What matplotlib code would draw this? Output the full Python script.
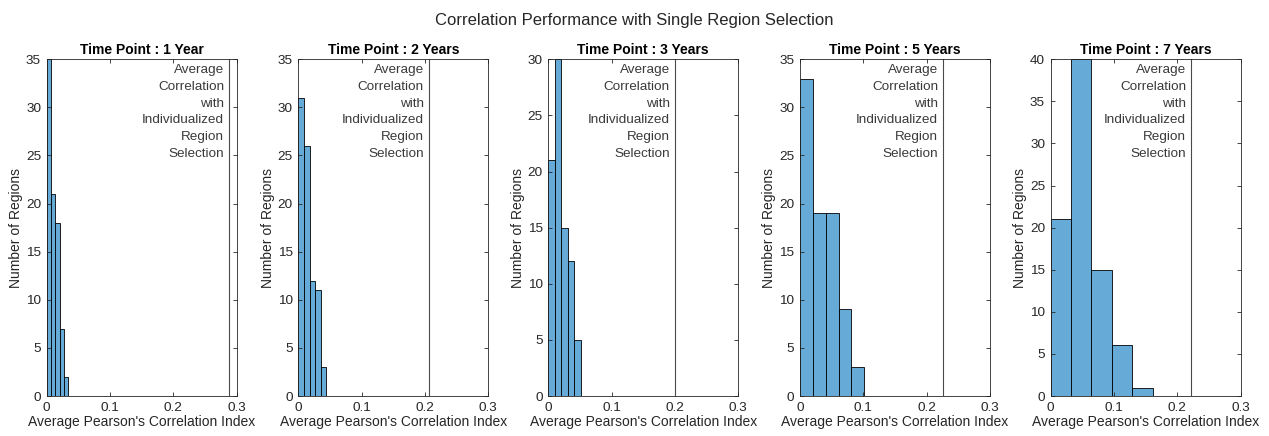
import numpy as np
import matplotlib.pyplot as plt

plt.rcParams['font.family'] = ['Liberation Sans', 'DejaVu Sans']

# histogram counts per time point (5 bins each, starting at 0)
time_points = ['1 Year', '2 Years', '3 Years', '5 Years', '7 Years']
counts_1y = [35, 21, 18, 7, 2]
counts_2y = [31, 26, 12, 11, 3]
counts_3y = [21, 30, 15, 12, 5]
counts_5y = [33, 19, 19, 9, 3]
counts_7y = [21, 40, 15, 6, 1]
bin_widths = [0.0068, 0.0089, 0.0102, 0.0203, 0.0322]
# average correlation obtained with individualized region selection
individual_corr = [0.288, 0.206, 0.200, 0.226, 0.222]
y_max = [35, 35, 30, 35, 40]

all_counts = [counts_1y, counts_2y, counts_3y, counts_5y, counts_7y]

W, H = 1269, 436
fig = plt.figure(figsize=(W / 100, H / 100), dpi=100)
fig.patch.set_facecolor('white')

ink = '#262626'
bar_face = (0.4, 0.668, 0.845)
lefts = [46.7, 298.3, 548.3, 800.0, 1050.7]
ax_w, ax_top, ax_bot = 190.0, 59.3, 396.0

for i in range(5):
    ax = fig.add_axes([lefts[i] / W, 1 - ax_bot / H, ax_w / W, (ax_bot - ax_top) / H])
    counts = all_counts[i]
    edges = np.arange(len(counts) + 1) * bin_widths[i]
    ax.hist(edges[:-1], bins=edges, weights=counts, color=bar_face,
            edgecolor='black', linewidth=0.6)
    ax.axvline(individual_corr[i], color='#4a4a4a', linewidth=0.8)
    ax.text(individual_corr[i] - 0.008, y_max[i] * 0.985,
            'Average\nCorrelation\nwith\nIndividualized\nRegion\nSelection',
            ha='right', va='top', fontsize=9.7, color='#3a3a3a', linespacing=1.52)
    ax.set_xlim(0, 0.3)
    ax.set_ylim(0, y_max[i])
    ax.set_xticks([0, 0.1, 0.2, 0.3])
    ax.set_xticklabels(['0', '0.1', '0.2', '0.3'])
    ax.set_yticks(np.arange(0, y_max[i] + 1, 5))
    ax.tick_params(direction='in', top=True, right=True, length=3, width=0.6,
                   labelsize=9.7, colors=ink, pad=4)
    for s in ax.spines.values():
        s.set_color(ink)
        s.set_linewidth(0.6)
    ax.set_xlabel("Average Pearson's Correlation Index", fontsize=10, color=ink, labelpad=1)
    ax.set_ylabel('Number of Regions', fontsize=10, color=ink, labelpad=2)
    ax.set_title('Time Point : ' + time_points[i], fontsize=10, fontweight='bold',
                 color='black', pad=4)

fig.suptitle('Correlation Performance with Single Region Selection',
             fontsize=12, color=ink, y=1 - 20 / H, va='center')

fig.savefig('out.png', dpi=100)
